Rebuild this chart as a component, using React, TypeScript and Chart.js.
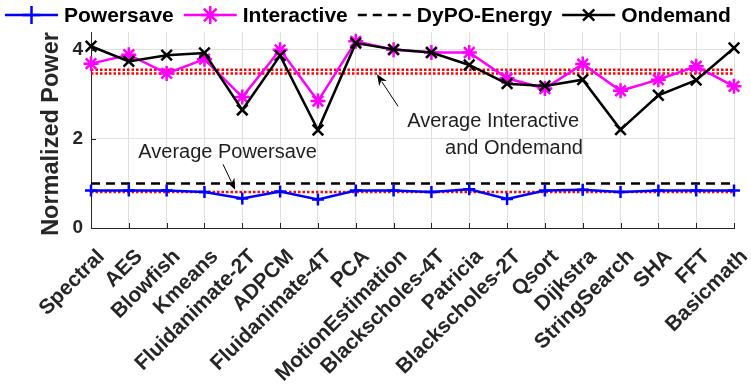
import React, { useEffect, useRef } from "react";
import { Chart, registerables } from "chart.js";

Chart.register(...registerables);

const categories = [
  "Spectral", "AES", "Blowfish", "Kmeans", "Fluidanimate-2T", "ADPCM",
  "Fluidanimate-4T", "PCA", "MotionEstimation", "Blackscholes-4T", "Patricia",
  "Blackscholes-2T", "Qsort", "Dijkstra", "StringSearch", "SHA", "FFT", "Basicmath",
];
const powersave = [0.84, 0.84, 0.84, 0.81, 0.66, 0.82, 0.64, 0.84, 0.84, 0.81, 0.87, 0.65, 0.84, 0.86, 0.81, 0.84, 0.84, 0.84];
const interactive = [3.69, 3.89, 3.47, 3.79, 2.94, 4.0, 2.85, 4.19, 4.0, 3.94, 3.94, 3.36, 3.13, 3.68, 3.08, 3.33, 3.63, 3.18];
const ondemand = [4.08, 3.74, 3.88, 3.93, 2.65, 3.87, 2.2, 4.15, 4.01, 3.94, 3.66, 3.24, 3.19, 3.33, 2.21, 2.98, 3.32, 4.04];
const dypoEnergy = [1.0, 1.0, 1.0, 1.0, 1.0, 1.0, 1.0, 1.0, 1.0, 1.0, 1.0, 1.0, 1.0, 1.0, 1.0, 1.0, 1.0, 1.0];
const averageInteractive = 3.55;
const averageOndemand = 3.47;
const averagePowersave = 0.81;
const yTickValues = [0, 2, 4];
const yMin = 0;
const yMax = 4.4;
const yTitle = "Normalized Power";

// annotation texts, placed in data units (category index, value)
const annotationTexts = [
  { text: "Average Powersave", x: 1.25, y: 1.58 },
  { text: "Average Interactive", x: 8.36, y: 2.26 },
  { text: "and Ondemand", x: 9.36, y: 1.655 },
];
const annotationArrows = [
  { fromX: 3.49, fromY: 1.43, toX: 3.81, toY: 0.86 },
  { fromX: 8.12, fromY: 2.73, toX: 7.56, toY: 3.45 },
];

const FONT = '"Liberation Sans", Arial, Helvetica, sans-serif';
const AXIS_COLOR = "#262626";
const GRID_COLOR = "#e0e0e0";

const legendItems = [
  { label: "Powersave", color: "#0000ff", marker: "cross", size: 9, dash: [] as number[] },
  { label: "Interactive", color: "#ff00ff", marker: "star", size: 9, dash: [] as number[] },
  { label: "DyPO-Energy", color: "#000000", marker: "", size: 0, dash: [9, 6] },
  { label: "Ondemand", color: "#000000", marker: "crossRot", size: 8, dash: [] as number[] },
];

function drawMarker(ctx: CanvasRenderingContext2D, style: string, x: number, y: number, r: number) {
  ctx.beginPath();
  if (style === "cross" || style === "star") {
    ctx.moveTo(x - r, y);
    ctx.lineTo(x + r, y);
    ctx.moveTo(x, y - r);
    ctx.lineTo(x, y + r);
  }
  if (style === "crossRot" || style === "star") {
    const o = r * Math.SQRT1_2;
    ctx.moveTo(x - o, y - o);
    ctx.lineTo(x + o, y + o);
    ctx.moveTo(x - o, y + o);
    ctx.lineTo(x + o, y - o);
  }
  ctx.stroke();
}

const overlayPlugin = {
  id: "overlay",
  afterDatasetsDraw(chart: any) {
    const ctx: CanvasRenderingContext2D = chart.ctx;
    const xs = chart.scales.x;
    const ys = chart.scales.y;
    const area = chart.chartArea;
    ctx.save();
    // inward tick marks
    ctx.strokeStyle = AXIS_COLOR;
    ctx.lineWidth = 1;
    ctx.setLineDash([]);
    ctx.beginPath();
    categories.forEach((_, i) => {
      const px = Math.round(xs.getPixelForValue(i)) + 0.5;
      ctx.moveTo(px, area.bottom);
      ctx.lineTo(px, area.bottom - 5);
    });
    yTickValues.forEach((v) => {
      const py = Math.round(ys.getPixelForValue(v)) + 0.5;
      ctx.moveTo(area.left, py);
      ctx.lineTo(area.left + 5, py);
    });
    ctx.stroke();

    // rotated category labels
    ctx.fillStyle = AXIS_COLOR;
    ctx.font = `bold 21px ${FONT}`;
    ctx.textAlign = "right";
    ctx.textBaseline = "alphabetic";
    categories.forEach((c, i) => {
      const px = xs.getPixelForValue(i);
      ctx.save();
      ctx.translate(px + 14.5, area.bottom + 29.5);
      ctx.rotate(-Math.PI / 4);
      ctx.fillText(c, 0, 0);
      ctx.restore();
    });

    // y-axis title
    ctx.save();
    ctx.font = `bold 23.5px ${FONT}`;
    ctx.textAlign = "center";
    ctx.textBaseline = "middle";
    ctx.translate(52, (area.top + area.bottom) / 2 + 4);
    ctx.rotate(-Math.PI / 2);
    ctx.fillText(yTitle, 0, 0);
    ctx.restore();

    // annotations
    ctx.fillStyle = "#1f1f1f";
    ctx.font = `20px ${FONT}`;
    ctx.textAlign = "left";
    ctx.textBaseline = "alphabetic";
    annotationTexts.forEach((a) => {
      ctx.fillText(a.text, xs.getPixelForValue(a.x), ys.getPixelForValue(a.y));
    });
    ctx.strokeStyle = "#000";
    ctx.fillStyle = "#000";
    annotationArrows.forEach((a) => {
      const x1 = xs.getPixelForValue(a.fromX);
      const y1 = ys.getPixelForValue(a.fromY);
      const x2 = xs.getPixelForValue(a.toX);
      const y2 = ys.getPixelForValue(a.toY);
      const ang = Math.atan2(y2 - y1, x2 - x1);
      const hl = 11;
      const hw = 4.5;
      ctx.lineWidth = 1;
      ctx.beginPath();
      ctx.moveTo(x1, y1);
      ctx.lineTo(x2 - Math.cos(ang) * hl * 0.8, y2 - Math.sin(ang) * hl * 0.8);
      ctx.stroke();
      const bx = x2 - Math.cos(ang) * hl;
      const by = y2 - Math.sin(ang) * hl;
      ctx.beginPath();
      ctx.moveTo(x2, y2);
      ctx.lineTo(bx + Math.sin(ang) * hw, by - Math.cos(ang) * hw);
      ctx.lineTo(x2 - Math.cos(ang) * hl * 0.7, y2 - Math.sin(ang) * hl * 0.7);
      ctx.lineTo(bx - Math.sin(ang) * hw, by + Math.cos(ang) * hw);
      ctx.closePath();
      ctx.fill();
    });
    ctx.restore();
  },
  afterDraw(chart: any) {
    const ctx: CanvasRenderingContext2D = chart.ctx;
    ctx.save();
    ctx.font = `bold 21px ${FONT}`;
    ctx.textBaseline = "middle";
    ctx.textAlign = "left";
    let x = 5;
    const y = 15;
    legendItems.forEach((it) => {
      ctx.strokeStyle = it.color;
      ctx.lineWidth = 2.5;
      ctx.setLineDash(it.dash);
      ctx.beginPath();
      ctx.moveTo(x, y);
      ctx.lineTo(x + 53, y);
      ctx.stroke();
      ctx.setLineDash([]);
      if (it.marker) drawMarker(ctx, it.marker, x + 26.5, y, it.size);
      ctx.fillStyle = "#000";
      ctx.fillText(it.label, x + 59, y + 1);
      x = x + 59 + ctx.measureText(it.label).width + 10;
    });
    ctx.restore();
  },
};

function avgLine(v: number) {
  return [
    { x: categories[0], y: v },
    { x: categories[categories.length - 1], y: v },
  ];
}

export default function App() {
  const ref = useRef<HTMLCanvasElement | null>(null);
  useEffect(() => {
    if (!ref.current) return;
    const redDotted = {
      borderColor: "#ff0000",
      borderWidth: 2.5,
      borderDash: [2.5, 2],
      pointRadius: 0,
      fill: false,
      order: 5,
    };
    const chart = new Chart(ref.current, {
      type: "line",
      data: {
        labels: categories,
        datasets: [
          {
            label: "Ondemand",
            data: ondemand,
            borderColor: "#000000",
            borderWidth: 2.5,
            pointStyle: "crossRot",
            pointRadius: 7.5,
            pointBorderWidth: 2.5,
            pointBorderColor: "#000000",
            order: 0,
          },
          {
            label: "Interactive",
            data: interactive,
            borderColor: "#ff00ff",
            borderWidth: 2.5,
            pointStyle: "star",
            pointRadius: 7.5,
            pointBorderWidth: 2.5,
            pointBorderColor: "#ff00ff",
            order: 1,
          },
          {
            label: "Powersave",
            data: powersave,
            borderColor: "#0000ff",
            borderWidth: 2.5,
            pointStyle: "cross",
            pointRadius: 6,
            pointBorderWidth: 2.5,
            pointBorderColor: "#0000ff",
            order: 2,
          },
          {
            label: "DyPO-Energy",
            data: dypoEnergy,
            borderColor: "#000000",
            borderWidth: 2.5,
            borderDash: [9, 6],
            pointRadius: 0,
            order: 3,
          },
          { label: "Average Interactive", data: avgLine(averageInteractive), ...redDotted } as any,
          { label: "Average Ondemand", data: avgLine(averageOndemand), ...redDotted } as any,
          { label: "Average Powersave", data: avgLine(averagePowersave), ...redDotted } as any,
        ],
      },
      options: {
        responsive: false,
        animation: false,
        devicePixelRatio: 1,
        layout: { padding: { top: 32, right: 17, left: 0, bottom: 0 } },
        elements: { line: { tension: 0 } },
        plugins: {
          legend: { display: false },
          tooltip: { enabled: false },
        },
        scales: {
          x: {
            type: "category",
            offset: false,
            grid: { color: GRID_COLOR, lineWidth: 1, drawTicks: false },
            border: { display: true, color: AXIS_COLOR, width: 1 },
            ticks: { display: false, autoSkip: false },
            afterFit: (s: any) => {
              s.height = 159;
              s.paddingLeft = 0;
              s.paddingRight = 0;
            },
          },
          y: {
            min: yMin,
            max: yMax,
            grid: { color: GRID_COLOR, lineWidth: 1, drawTicks: false },
            border: { display: true, color: AXIS_COLOR, width: 1 },
            ticks: {
              padding: 8,
              color: AXIS_COLOR,
              font: { family: FONT, size: 19, weight: "bold" },
            },
            afterBuildTicks: (s: any) => {
              s.ticks = yTickValues.map((v) => ({ value: v }));
            },
            title: { display: false },
            afterFit: (s: any) => {
              s.width = 91;
              s.paddingTop = 0;
              s.paddingBottom = 0;
            },
          },
        },
      },
      plugins: [overlayPlugin],
    } as any);
    return () => chart.destroy();
  }, []);
  return (
    <div style={{ position: "absolute", left: 0, top: 0, width: 751, height: 387, background: "#fff" }}>
      <canvas ref={ref} width={751} height={387} style={{ width: 751, height: 387, display: "block" }} />
    </div>
  );
}
